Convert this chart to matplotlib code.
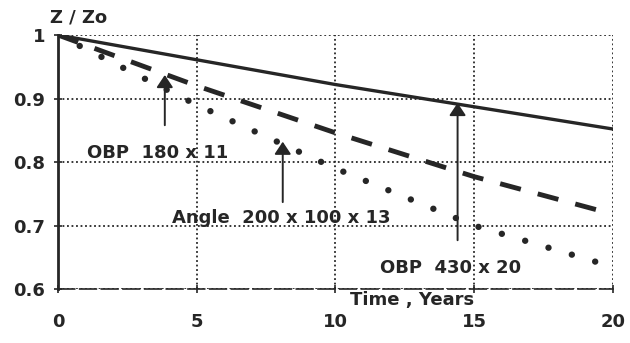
import matplotlib
matplotlib.use('Agg')
import matplotlib.pyplot as plt

# values
years = [0, 5, 10, 15, 20]
obp_430 = [1.0, 0.961, 0.922, 0.887, 0.852]
angle_200 = [1.0, 0.92, 0.846, 0.777, 0.718]
obp_180 = [1.0, 0.89, 0.79, 0.70, 0.635]

# arrow labels: (text, arrow x, arrow bottom y, arrow tip y, text x, text y)
notes = [
    ('OBP  180 x 11', 3.85, 0.858, 0.937, 1.05, 0.814),
    ('Angle  200 x 100 x 13', 8.1, 0.737, 0.832, 4.1, 0.712),
    ('OBP  430 x 20', 14.4, 0.677, 0.893, 11.6, 0.633),
]

ink = '#262626'
plt.rcParams['font.family'] = ['DejaVu Sans']
plt.rcParams['font.weight'] = 'bold'

fig = plt.figure(figsize=(6.3, 3.43), dpi=100)
ax = fig.add_axes([0.092, 0.157, 0.881, 0.741])

ax.plot(years, obp_430, '-', color=ink, lw=2.4, solid_capstyle='round')
ax.plot(years, angle_200, color=ink, lw=3.5, linestyle=(0, (4.4, 3.6)))
ax.plot(years, obp_180, color=ink, lw=4.6, linestyle=(0, (0.01, 3.8)),
        dash_capstyle='round')

for txt, xa, y0, y1, xt, yt in notes:
    ax.annotate('', xy=(xa, y1), xytext=(xa, y0),
                arrowprops=dict(arrowstyle='-|>,head_width=0.5,head_length=0.75',
                                color=ink, lw=1.4, shrinkA=0, shrinkB=0))
    ax.text(xt, yt, txt, fontsize=13, fontweight='bold', color=ink,
            ha='left', va='center')

ax.set_xlim(0, 20)
ax.set_ylim(0.6, 1.0)
ax.set_xticks([0, 5, 10, 15, 20])
ax.set_yticks([0.6, 0.7, 0.8, 0.9, 1.0])
ax.set_yticklabels(['0.6', '0.7', '0.8', '0.9', '1'])
ax.tick_params(axis='both', labelsize=13, colors=ink, direction='inout',
               length=6, width=1.2)
ax.tick_params(axis='x', pad=14)
ax.tick_params(axis='y', pad=6)

ax.grid(True, linestyle=(0, (1, 1.5)), color=ink, lw=1.3)
ax.set_axisbelow(True)

for s in ['top', 'right']:
    ax.spines[s].set_visible(False)
ax.spines['left'].set_linewidth(2.0)
ax.spines['left'].set_color(ink)
ax.spines['bottom'].set_linestyle((0, (10, 3)))
ax.spines['bottom'].set_linewidth(1.2)
ax.spines['bottom'].set_color(ink)

fig.text(0.079, 0.95, 'Z / Zo', fontsize=13, fontweight='bold', color=ink,
         ha='left', va='center')
fig.text(0.555, 0.125, 'Time , Years', fontsize=13, fontweight='bold',
         color=ink, ha='left', va='center')

fig.savefig('out.png', dpi=100, facecolor='white')
